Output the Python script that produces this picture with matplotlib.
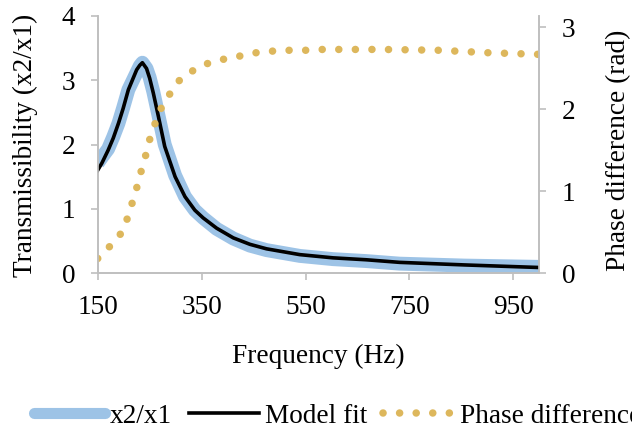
import numpy as np
import matplotlib
matplotlib.use('Agg')
import matplotlib.pyplot as plt
from matplotlib.lines import Line2D

plt.rcParams['font.family'] = ['Liberation Serif', 'DejaVu Serif']
plt.rcParams['font.size'] = 19.6

# ── data ───────────────────────────────────────────────────────
freq = [150, 158, 170, 180, 190, 199, 209, 225, 231, 236, 244, 250, 257, 267, 279, 299, 318,
        337, 353, 379, 411, 443, 475, 539, 603, 667, 731, 856, 1000]
trans_meas = [1.71, 1.80, 1.93, 2.12, 2.33, 2.57, 2.85, 3.12, 3.22, 3.27, 3.18, 3.04, 2.82,
              2.45, 2.00, 1.52, 1.19, 0.98, 0.86, 0.69, 0.54, 0.43, 0.36, 0.27, 0.22,
              0.19, 0.15, 0.12, 0.10]
trans_fit = [1.60, 1.71, 1.91, 2.10, 2.33, 2.56, 2.85, 3.16, 3.23, 3.27, 3.18, 3.03, 2.80,
             2.43, 1.97, 1.50, 1.19, 0.98, 0.86, 0.70, 0.55, 0.45, 0.38, 0.29, 0.24,
             0.21, 0.17, 0.13, 0.09]

phase_freq = [150, 172, 193, 206, 216, 225, 233, 242, 250, 260, 272, 288, 307, 333,
              362, 392, 424, 455, 487, 519, 551, 583, 615, 645, 700, 807, 901, 1000]
phase = [0.18, 0.32, 0.47, 0.65, 0.85, 1.04, 1.23, 1.43, 1.63, 1.82, 2.01, 2.18, 2.35, 2.47,
         2.56, 2.61, 2.65, 2.69, 2.71, 2.72, 2.72, 2.73, 2.73, 2.73, 2.73, 2.72, 2.69, 2.67]

x_ticks = [150, 350, 550, 750, 950]

BLUE = '#9DC3E6'
GOLD = '#DDB75C'
GREY = '#BFBFBF'
dot_style = (0, (0.01, 2.2))

fig = plt.figure(figsize=(6.32, 4.33), dpi=100)
ax = fig.add_axes([97.7 / 632, 1 - 273.3 / 433, 441.6 / 632, 257.6 / 433])
ax2 = ax.twinx()

ax.plot(freq, trans_meas, color=BLUE, lw=10, solid_capstyle='butt',
        solid_joinstyle='round', zorder=2)
ax.plot(freq, trans_fit, color='black', lw=2.6, solid_joinstyle='round', zorder=3)
ax2.plot(phase_freq, phase, color=GOLD, lw=5.4, linestyle=dot_style,
         dash_capstyle='round')

ax.set_xlim(150, 1000)
ax.set_ylim(0, 4)
ax2.set_ylim(0, 3.1416)
ax.set_xticks(x_ticks)
ax.set_yticks([0, 1, 2, 3, 4])
ax2.set_yticks([0, 1, 2, 3])

for a in (ax, ax2):
    for s in a.spines.values():
        s.set_color(GREY)
        s.set_linewidth(1.2)
    a.spines['top'].set_visible(False)
    a.tick_params(colors=GREY, labelcolor='black', length=5.2, width=1.2,
                  labelsize=19.6)
ax.tick_params(axis='x', pad=10.5)
ax.tick_params(axis='y', pad=10.8)
ax2.tick_params(axis='y', pad=10.8)

fig.text(318.5 / 632, 1 - 356.5 / 433, 'Frequency (Hz)', ha='center', va='center')
fig.text(25.5 / 632, 1 - 145.8 / 433, 'Transmissibility (x2/x1)',
         rotation=90, ha='center', va='center')
fig.text(618.8 / 632, 1 - 150 / 433, 'Phase difference (rad)',
         rotation=90, ha='center', va='center')

handles = [
    Line2D([], [], color=BLUE, lw=8, solid_capstyle='round'),
    Line2D([], [], color='black', lw=2.6),
    Line2D([], [], color=GOLD, lw=5.4, linestyle=dot_style, dash_capstyle='round'),
]
fig.legend(handles, ['x2/x1', 'Model fit', 'Phase difference'],
           loc='center left', bbox_to_anchor=(34 / 632, 1 - 416 / 433),
           ncol=3, frameon=False, borderpad=0, borderaxespad=0,
           handlelength=2.6, handletextpad=0.2, columnspacing=0.6,
           fontsize=19.6)

fig.savefig('out.png', dpi=100)
